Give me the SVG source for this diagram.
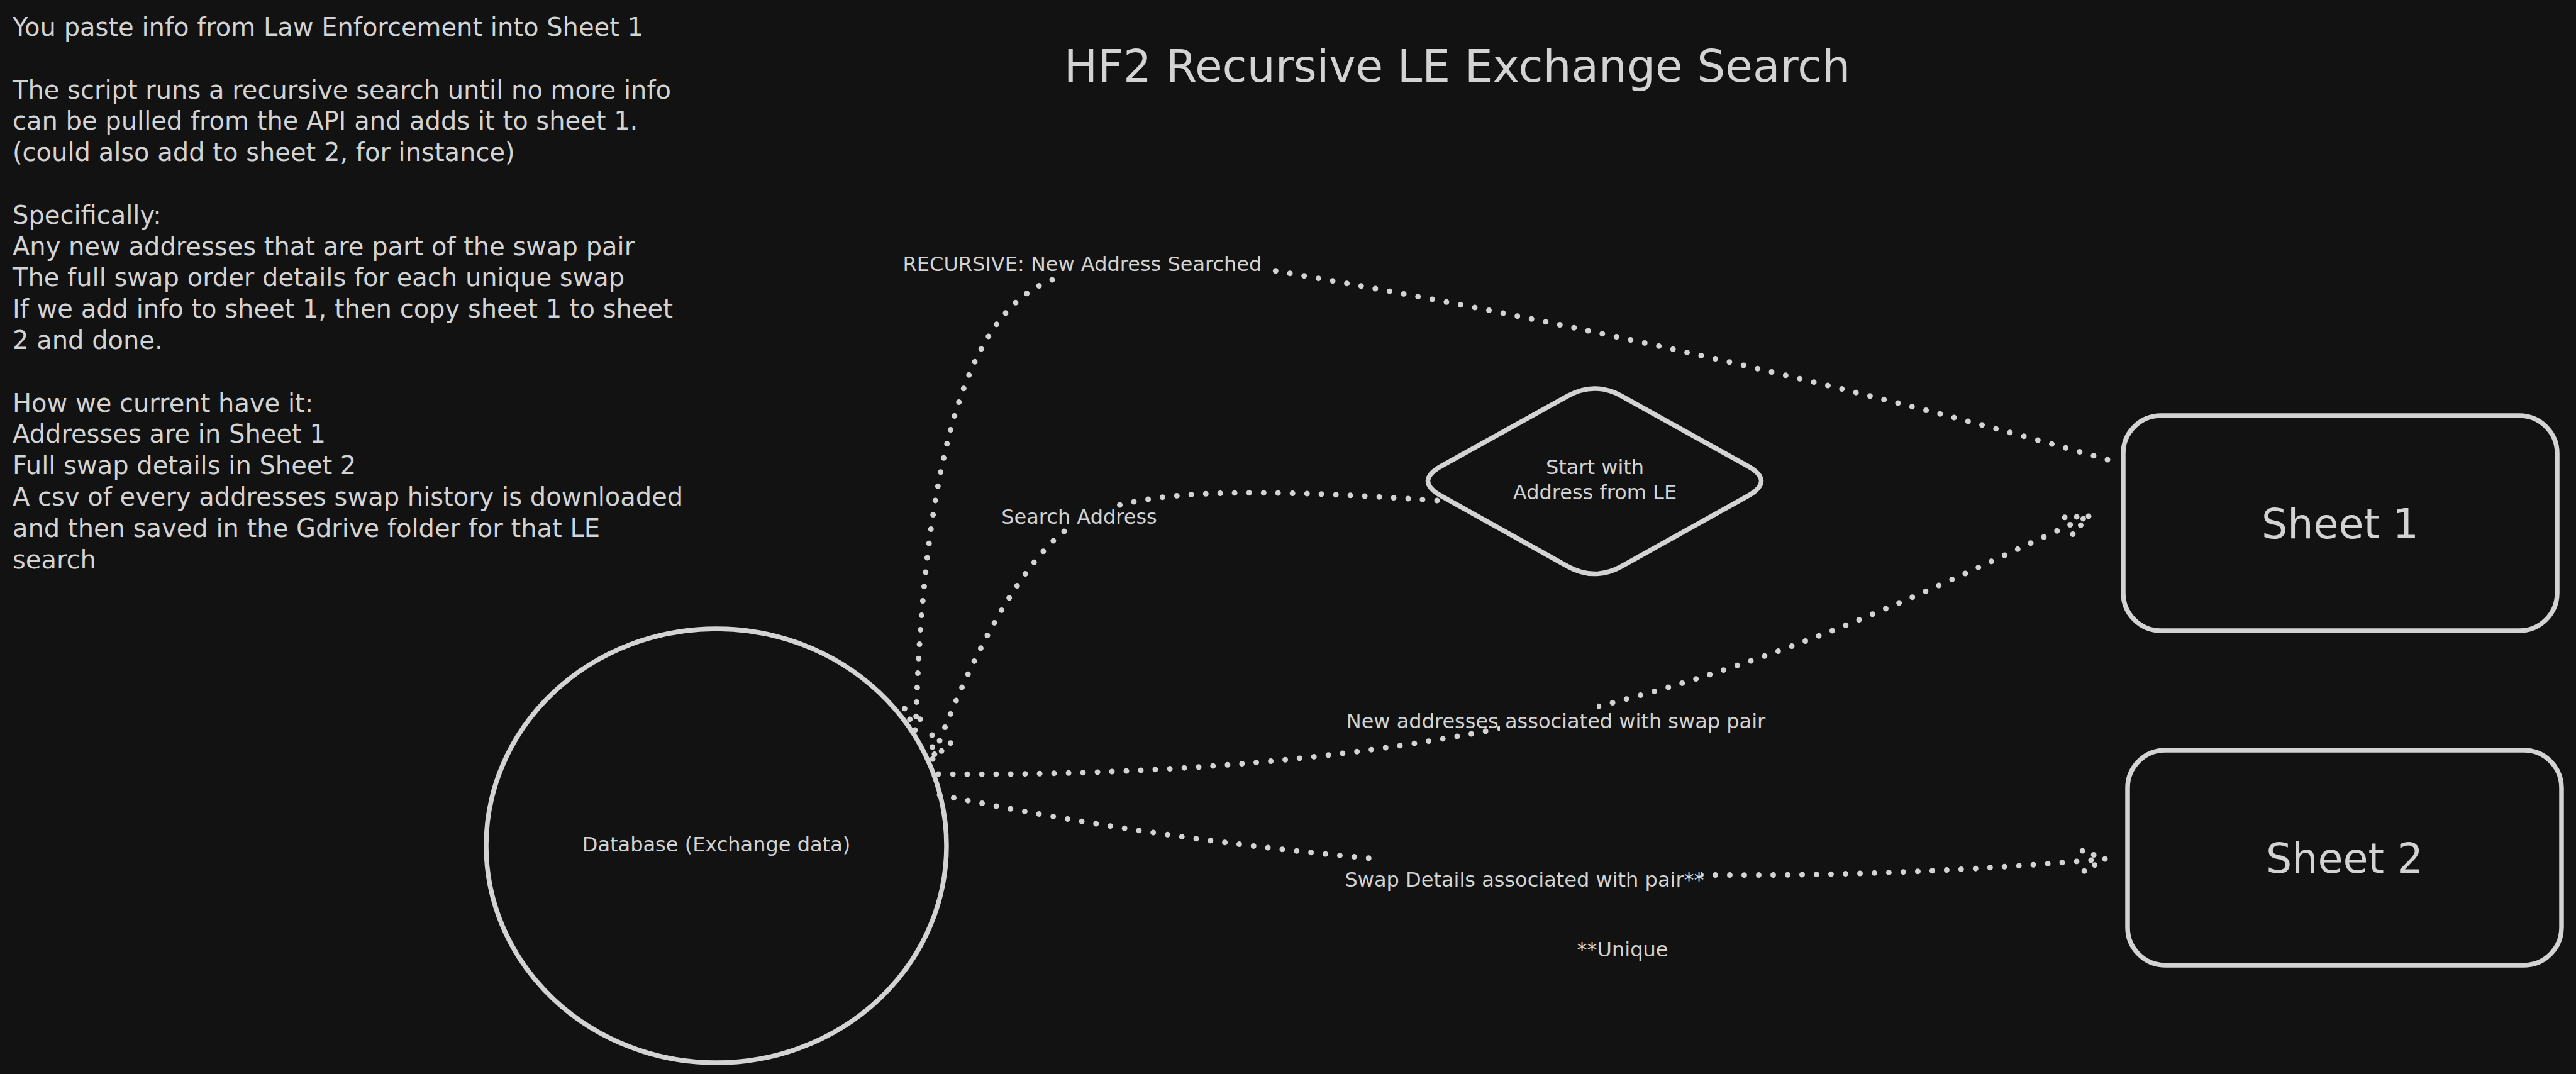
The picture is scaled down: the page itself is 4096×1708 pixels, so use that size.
<svg xmlns="http://www.w3.org/2000/svg" width="4096" height="1708" viewBox="0 0 4096 1708">
<style>
.bg{fill:#121212}
.shape{fill:none;stroke:#d3d3d3;stroke-width:7.5;stroke-linejoin:round}
.dot{fill:none;stroke:#d3d3d3;stroke-width:9;stroke-linecap:round;stroke-dasharray:0 23}
.head{fill:none;stroke:#d3d3d3;stroke-width:9;stroke-linecap:round;stroke-dasharray:0 19}
text{font-family:"DejaVu Sans","Liberation Sans",sans-serif;fill:#d3d3d3}
.note{font-size:40px}
.lbl{font-size:32px;text-anchor:middle}
.big{font-size:65px;text-anchor:middle}
.title{font-size:71px;text-anchor:middle}
</style>
<defs>
<mask id="gaps" maskUnits="userSpaceOnUse" x="0" y="0" width="4096" height="1708">
<rect x="0" y="0" width="4096" height="1708" fill="#fff"/>
<rect x="2385" y="1080" width="155" height="120" fill="#000"/>
<rect x="2190" y="1340" width="515" height="100" fill="#000"/>
</mask>
</defs>
<rect class="bg" x="0" y="0" width="4096" height="1708"/>

<g id="title">
<text class="title" x="2317" y="130">HF2 Recursive LE Exchange Search</text>
</g>

<g id="notes">
<text class="note">
<tspan x="20" y="57">You paste info from Law Enforcement into Sheet 1</tspan>
<tspan x="20" y="156.6">The script runs a recursive search until no more info</tspan>
<tspan x="20" y="206.4">can be pulled from the API and adds it to sheet 1.</tspan>
<tspan x="20" y="256.2">(could also add to sheet 2, for instance)</tspan>
<tspan x="20" y="355.8">Specifically:</tspan>
<tspan x="20" y="405.6">Any new addresses that are part of the swap pair</tspan>
<tspan x="20" y="455.4">The full swap order details for each unique swap</tspan>
<tspan x="20" y="505.2">If we add info to sheet 1, then copy sheet 1 to sheet</tspan>
<tspan x="20" y="555">2 and done.</tspan>
<tspan x="20" y="654.6">How we current have it:</tspan>
<tspan x="20" y="704.4">Addresses are in Sheet 1</tspan>
<tspan x="20" y="754.2">Full swap details in Sheet 2</tspan>
<tspan x="20" y="804">A csv of every addresses swap history is downloaded</tspan>
<tspan x="20" y="853.8">and then saved in the Gdrive folder for that LE</tspan>
<tspan x="20" y="903.6">search</tspan>
</text>
</g>

<g id="connectors">
<g id="edge-recursive">
<path class="dot" d="M 3351 731 Q 2700 545 2012 428"/>
<path class="dot" d="M 1673 445 C 1565 485 1470 650 1456 1160"/>
<path class="head" d="M 1455 1161 L 1437 1124 M 1455 1161 L 1471 1127"/>
</g>
<g id="edge-search">
<path class="dot" d="M 2285 796 C 2050 780 1870 776 1770 806"/>
<path class="dot" d="M 1692 845 C 1640 885 1560 1000 1483 1207"/>
<path class="head" d="M 1483 1207 L 1482 1167 M 1483 1207 L 1512 1181"/>
</g>
<g id="edge-new-addresses">
<path class="dot" mask="url(#gaps)" d="M 1492 1231 C 2500 1240 2920 1005 3321 821"/>
<path class="head" d="M 3321 821 L 3279 823 M 3321 821 L 3292 854"/>
</g>
<g id="edge-swap-details">
<path class="dot" mask="url(#gaps)" d="M 1494 1264 C 2100 1390 2750 1420 3347 1366"/>
<path class="head" d="M 3347 1366 L 3311 1353 M 3347 1366 L 3313 1386"/>
</g>
</g>

<g id="edge-labels">
<text class="lbl" x="1721" y="431">RECURSIVE: New Address Searched</text>
<text class="lbl" x="1716" y="833">Search Address</text>
<text class="lbl" x="2474" y="1158">New addresses associated with swap pair</text>
<text class="lbl" x="2424" y="1410">Swap Details associated with pair**</text>
<text class="lbl" x="2580" y="1521">**Unique</text>
</g>

<g id="node-start">
<path class="shape" d="M 2292 741.15 L 2492.5 629.85 Q 2535.5 606 2578.5 629.85 L 2779 741.15 Q 2822 765 2779 788.9 L 2578.5 900.6 Q 2535.5 924.5 2492.5 900.6 L 2292 788.9 Q 2249 765 2292 741.15 Z"/>
<text class="lbl" x="2536" y="754">Start with</text>
<text class="lbl" x="2536" y="794">Address from LE</text>
</g>

<g id="node-database">
<ellipse class="shape" cx="1139" cy="1345" rx="366" ry="345"/>
<text class="lbl" x="1139" y="1354">Database (Exchange data)</text>
</g>

<g id="node-sheet1">
<rect class="shape" x="3376" y="661" width="690" height="342" rx="60" ry="60"/>
<text class="big" x="3721" y="856">Sheet 1</text>
</g>

<g id="node-sheet2">
<rect class="shape" x="3383" y="1193" width="690" height="342" rx="60" ry="60"/>
<text class="big" x="3728" y="1388">Sheet 2</text>
</g>
</svg>
